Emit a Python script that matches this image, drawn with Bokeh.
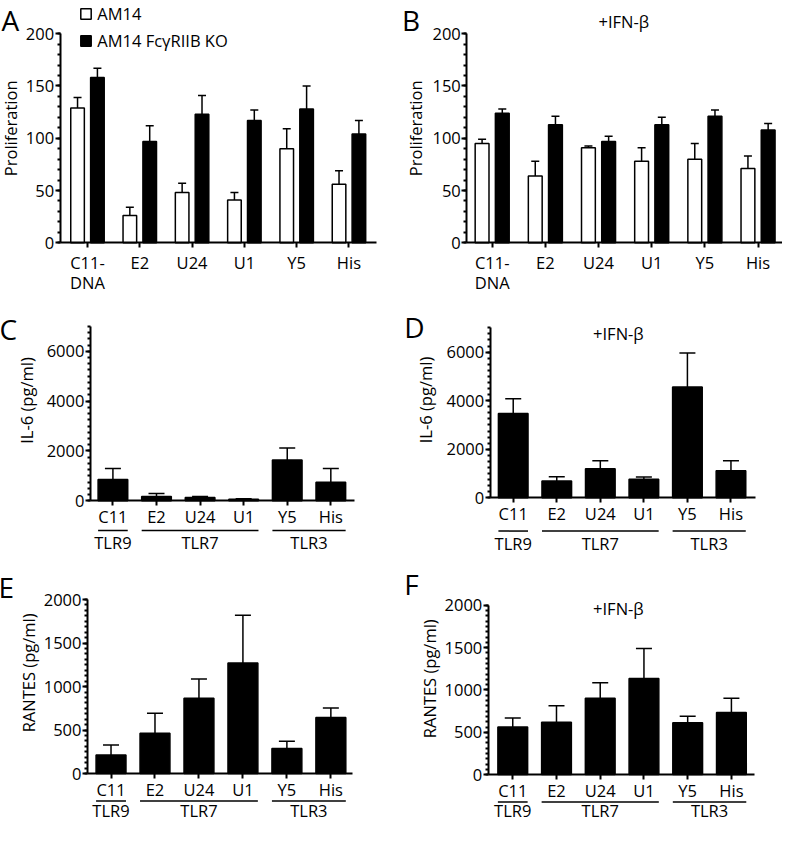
import math
from bokeh.plotting import figure
from bokeh.models import (Range1d, FixedTicker, SingleIntervalTicker, Whisker, TeeHead,
                          ColumnDataSource, Label, BoxAnnotation, Legend, LegendItem)
from bokeh.layouts import column, row
from bokeh.embed import file_html
from bokeh.resources import INLINE

# ---------------- data ----------------
prolif_labels = ["C11-\nDNA", "E2", "U24", "U1", "Y5", "His"]
cyt_labels = ["C11", "E2", "U24", "U1", "Y5", "His"]
tlr_groups = ["TLR9", "TLR7", "TLR3"]
tlr_first = [0, 1, 4]
tlr_last = [0, 3, 5]

series_names = ["AM14", "AM14 FcγRIIB KO"]

a_am14 = [129, 26, 48, 41, 90, 56]
a_am14_sem = [10, 8, 9, 7, 19, 13]
a_ko = [158, 97, 123, 117, 128, 104]
a_ko_sem = [9, 15, 18, 10, 22, 13]

b_am14 = [95, 64, 91, 78, 80, 71]
b_am14_sem = [4, 14, 1.5, 13, 15, 12]
b_ko = [124, 113, 97, 113, 121, 108]
b_ko_sem = [4, 8, 5, 7, 6, 6]

c_il6 = [854, 171, 131, 66, 1641, 748]
c_il6_sem = [446, 118, 40, 13, 473, 552]
d_il6 = [3476, 698, 1194, 765, 4563, 1114]
d_il6_sem = [604, 174, 336, 94, 1397, 416]

e_rantes = [213, 464, 865, 1270, 288, 644]
e_rantes_sem = [117, 229, 221, 550, 83, 109]
f_rantes = [564, 618, 902, 1136, 614, 733]
f_rantes_sem = [104, 196, 184, 353, 77, 169]

# ---------------- style / layout ----------------
S = 0.978
FONT = "Open Sans"
FS = "16.5px"


class Panel:
    """One sub-chart; geometry given in reference-pixel coordinates."""

    def __init__(self, panel, frame, xr, yr):
        px, py, pw, ph = panel
        fl, ft, fr, fb = frame
        self.px, self.py, self.ph = px, py, ph
        ux = (xr[1] - xr[0]) / (fr - fl)
        uy = (yr[1] - yr[0]) / (fb - ft)
        X0 = xr[0] - (fl - px) * ux
        X1 = xr[1] + (px + pw - fr) * ux
        Y0 = yr[0] - (py + ph - fb) * uy
        Y1 = yr[1] + (ft - py) * uy
        p = figure(width=round(pw * S), height=round(ph * S),
                   x_range=Range1d(X0, X1), y_range=Range1d(Y0, Y1),
                   min_border=0, output_backend="svg", toolbar_location=None)
        p.outline_line_color = None
        p.grid.visible = False
        p.background_fill_color = "white"
        p.border_fill_color = "white"
        self.p = p
        self.xr, self.yr = xr, yr

    def sx(self, rx):
        return (rx - self.px) * S

    def sy(self, ry):
        return (self.py + self.ph - ry) * S

    def label(self, rx, ry, text, size=FS, align="center", baseline="middle", angle=0.0):
        self.p.add_layout(Label(x=self.sx(rx), y=self.sy(ry), x_units="screen", y_units="screen",
                                text=text, text_font=FONT, text_font_size=size, text_color="black",
                                text_align=align, text_baseline=baseline, angle=angle))


def style_axes(pn, interval, n_minor, xlabels, x_standoff):
    p = pn.p
    ya = p.yaxis[0]
    ya.fixed_location = pn.xr[0]
    ya.bounds = pn.yr
    ya.ticker = SingleIntervalTicker(interval=interval, num_minor_ticks=n_minor)
    xa = p.xaxis[0]
    xa.fixed_location = pn.yr[0]
    xa.bounds = pn.xr
    xa.ticker = FixedTicker(ticks=list(range(len(xlabels))))
    xa.major_label_overrides = {i: lab for i, lab in enumerate(xlabels)}
    for ax in (ya, xa):
        ax.axis_line_width = 2
        ax.axis_line_color = "black"
        ax.major_tick_line_width = 2
        ax.major_tick_in = 0
        ax.major_tick_out = 5
        ax.major_label_text_font = FONT
        ax.major_label_text_font_size = FS
        ax.major_label_text_color = "black"
    ya.minor_tick_in = 0
    ya.minor_tick_out = 3
    ya.minor_tick_line_width = 2
    ya.major_label_standoff = 1
    xa.minor_tick_line_color = None
    xa.major_label_standoff = x_standoff
    xa.major_label_text_line_height = 0.9


def bars(pn, xs, vals, sem, width, color, cap):
    src = ColumnDataSource(dict(x=xs, top=vals, up=[v + s for v, s in zip(vals, sem)]))
    r = pn.p.vbar(x="x", top="top", bottom=0, width=width, source=src,
                  fill_color=color, line_color="black", line_width=1.5)
    pn.p.add_layout(Whisker(base="x", lower="top", upper="up", source=src, line_width=1.5,
                            line_color="black",
                            upper_head=TeeHead(size=cap, line_width=1.5, line_color="black"),
                            lower_head=None))
    return r


def groups(pn, width, line_y, text_y):
    for name, a, b in zip(tlr_groups, tlr_first, tlr_last):
        yy = pn.sy(line_y)
        pn.p.add_layout(BoxAnnotation(left=a - width / 2, right=b + width / 2,
                                      top=yy + 0.75, bottom=yy - 0.75,
                                      top_units="screen", bottom_units="screen",
                                      fill_color="black", fill_alpha=1, line_color=None))
        pn.p.add_layout(Label(x=(a + b) / 2, y=pn.sy(text_y), x_units="data", y_units="screen",
                              text=name, text_font=FONT, text_font_size=FS, text_color="black",
                              text_align="center", text_baseline="middle"))


ROT = math.pi / 2
n = len(cyt_labels)
xi = list(range(n))
LET = "28px"

R1 = (0, 304)      # row 1 top / height (reference px)
R2 = (304, 264)
R3 = (568, 274)

# ---- A ----
A = Panel((0, R1[0], 400, R1[1]), (61, 34, 385, 248), (-0.523, 5.533), (0, 200))
style_axes(A, 50, 5, prolif_labels, 3)
rA1 = bars(A, [x - 0.19 for x in xi], a_am14, a_am14_sem, 0.26, "white", 8)
rA2 = bars(A, [x + 0.19 for x in xi], a_ko, a_ko_sem, 0.26, "black", 8)
A.label(10, 20, "A", size=LET)
A.label(10, 131, "Proliferation", angle=ROT)
leg = Legend(items=[LegendItem(label=series_names[0], renderers=[rA1]),
                    LegendItem(label=series_names[1], renderers=[rA2])],
             location=(A.sx(81), A.sy(53)), glyph_width=13, glyph_height=13,
             label_height=20, spacing=4, padding=0, margin=0, label_standoff=5,
             label_text_font=FONT, label_text_font_size=FS, label_text_color="black",
             border_line_color=None, background_fill_alpha=0)
A.p.add_layout(leg)

# ---- B ----
B = Panel((400, R1[0], 400, R1[1]), (477, 34, 800, 248), (-0.478, 5.46), (0, 200))
style_axes(B, 50, 5, prolif_labels, 3)
bars(B, [x - 0.19 for x in xi], b_am14, b_am14_sem, 0.26, "white", 8)
bars(B, [x + 0.19 for x in xi], b_ko, b_ko_sem, 0.26, "black", 8)
B.label(420, 20, "B", size=LET)
B.label(425, 131, "Proliferation", angle=ROT)
B.label(637.5, 22, "+IFN-β")

# ---- C ----
C = Panel((0, R2[0], 400, R2[1]), (92, 333.5, 362, 512), (-0.516, 5.54), (0, 7000))
style_axes(C, 2000, 8, cyt_labels, -1)
bars(C, xi, c_il6, c_il6_sem, 0.68, "black", 16)
groups(C, 0.68, 542.5, 555)
C.label(8, 336, "C", size=LET)
C.label(27, 409.5, "IL-6 (pg/ml)", angle=ROT)

# ---- D ----
D = Panel((400, R2[0], 400, R2[1]), (501, 335, 772, 509), (-0.528, 5.555), (0, 7000))
style_axes(D, 2000, 8, cyt_labels, -1)
bars(D, xi, d_il6, d_il6_sem, 0.68, "black", 16)
groups(D, 0.68, 543, 555.5)
D.label(423.5, 334.5, "D", size=LET)
D.label(435, 409, "IL-6 (pg/ml)", angle=ROT)
D.label(632, 341, "+IFN-β")

# ---- E ----
E = Panel((0, R3[0], 400, R3[1]), (89, 613, 360, 791), (-0.535, 5.49), (0, 2000))
style_axes(E, 500, 8, cyt_labels, -1)
bars(E, xi, e_rantes, e_rantes_sem, 0.68, "black", 16)
groups(E, 0.68, 819, 829)
E.label(6, 600, "E", size=LET)
E.label(28.5, 688, "RANTES (pg/ml)", angle=ROT)

# ---- F ----
F = Panel((400, R3[0], 400, R3[1]), (499, 619, 771, 792), (-0.56, 5.52), (0, 2000))
style_axes(F, 500, 8, cyt_labels, -1)
bars(F, xi, f_rantes, f_rantes_sem, 0.68, "black", 16)
groups(F, 0.68, 820, 829)
F.label(420.5, 597.5, "F", size=LET)
F.label(438.5, 694, "RANTES (pg/ml)", angle=ROT)
F.label(632, 622, "+IFN-β")

layout = column(row(A.p, B.p), row(C.p, D.p), row(E.p, F.p))
open("out.html", "w").write(file_html(layout, INLINE))
